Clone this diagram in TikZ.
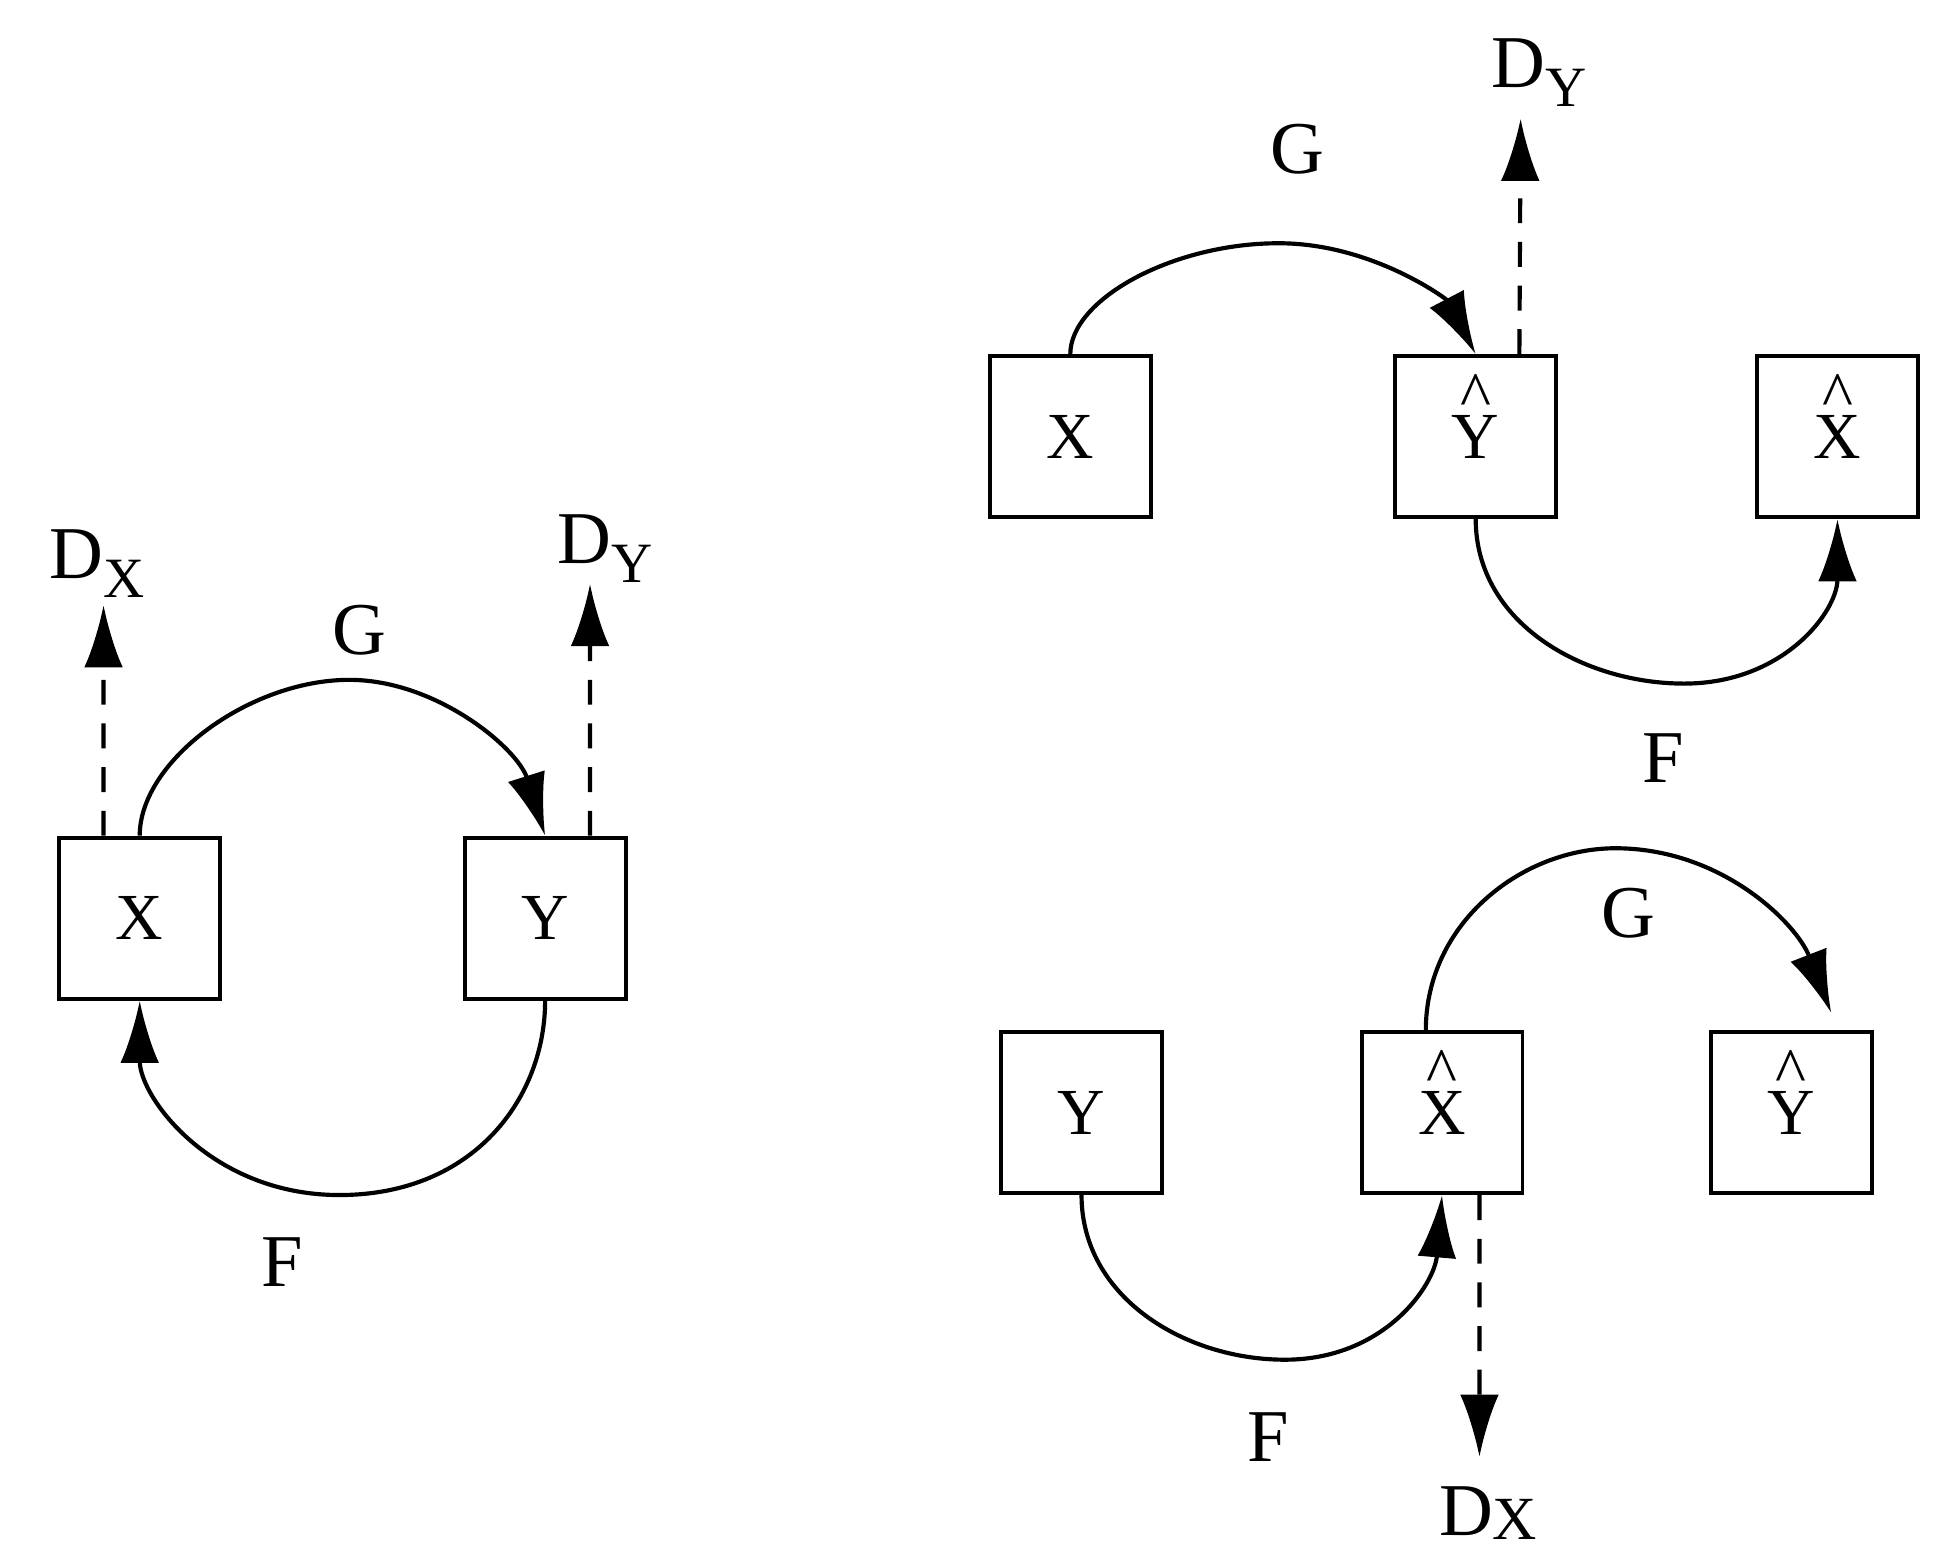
\documentclass[tikz,border=0pt]{standalone}
\usepackage{fontspec}
\setmainfont{Liberation Serif}
\usetikzlibrary{arrows.meta}
\newcommand{\hatit}[1]{\ooalign{#1\cr\hidewidth\raisebox{0.62em}{\textasciicircum}\hidewidth\cr}}
\begin{document}
\begin{tikzpicture}[x=0.02cm,y=-0.02cm,
  box/.style={draw,line width=1.8pt,minimum size=2.58cm,inner sep=0pt,font=\fontsize{30}{36}\selectfont},
  lbl/.style={font=\fontsize{34}{40}\selectfont,inner sep=0pt},
  arr/.style={line width=1.9pt,-{Latex[length=1.0cm,width=0.62cm]}},
  darr/.style={arr,dash pattern=on 0.4cm off 0.3cm}]
\useasboundingbox (0,0) rectangle (1556,1247);
% left
\node[box] (lx) at (112,736) {X};
\node[box] (ly) at (437,736) {Y};
\node[lbl] (ldx) at (78,452) {D\raisebox{-0.25em}{\fontsize{26}{30}\selectfont X}};
\node[lbl] (ldy) at (485,440) {D\raisebox{-0.25em}{\fontsize{26}{30}\selectfont Y}};
\node[lbl] (lg) at (288,505) {G};
\node[lbl] (lf) at (226,1012) {F};
\coordinate (ldxt) at (83,485);
\coordinate (ldyt) at (473,468);
\draw[darr] ([xshift=-0.58cm]lx.north) -- (ldxt);
\draw[darr] ([xshift=0.72cm]ly.north) -- (ldyt);
\draw[arr] (lx.north) .. controls (112,610) and (200,545) .. (280,545) .. controls (350,545) and (415,600) .. (ly.north);
\draw[arr] (ly.south) .. controls (437,880) and (380,958) .. (272,958) .. controls (170,958) and (112,880) .. (lx.south);
% top right
\node[box] (tx) at (858,350) {X};
\node[box] (ty) at (1183,350) {\hatit{Y}};
\node[box] (tx2) at (1473,350) {\hatit{X}};
\node[lbl] (tdy) at (1234,58) {D\raisebox{-0.25em}{\fontsize{26}{30}\selectfont Y}};
\node[lbl] (tg) at (1040,120) {G};
\node[lbl] (tf) at (1333,608) {F};
\coordinate (tdyt) at (1219,95);
\draw[darr] ([xshift=0.7cm]ty.north) -- (tdyt);
\draw[arr] (tx.north) .. controls (858,240) and (940,195) .. (1025,195) .. controls (1100,195) and (1160,240) .. (ty.north);
\draw[arr] (ty.south) .. controls (1183,500) and (1270,548) .. (1350,548) .. controls (1430,548) and (1473,490) .. (tx2.south);
% bottom right
\node[box] (by) at (867,892) {Y};
\node[box] (bx) at (1156,892) {\hatit{X}};
\node[box] (by2) at (1436,892) {\hatit{Y}};
\node[lbl] (bdx) at (1193,1213) {D\raisebox{-0.05em}{\fontsize{28}{30}\selectfont X}};
\node[lbl] (bg) at (1305,732) {G};
\node[lbl] (bf) at (1017,1152) {F};
\coordinate (bdxt) at (1186,1168);
\coordinate (bgt) at (1468,812);
\draw[darr] ([xshift=0.6cm]bx.south) -- (bdxt);
\draw[arr] ([xshift=-0.26cm]bx.north) .. controls (1143,740) and (1220,680) .. (1295,680) .. controls (1380,680) and (1440,740) .. (bgt);
\draw[arr] (by.south) .. controls (867,1040) and (950,1090) .. (1030,1090) .. controls (1110,1090) and (1150,1030) .. (bx.south);
\end{tikzpicture}
\end{document}
